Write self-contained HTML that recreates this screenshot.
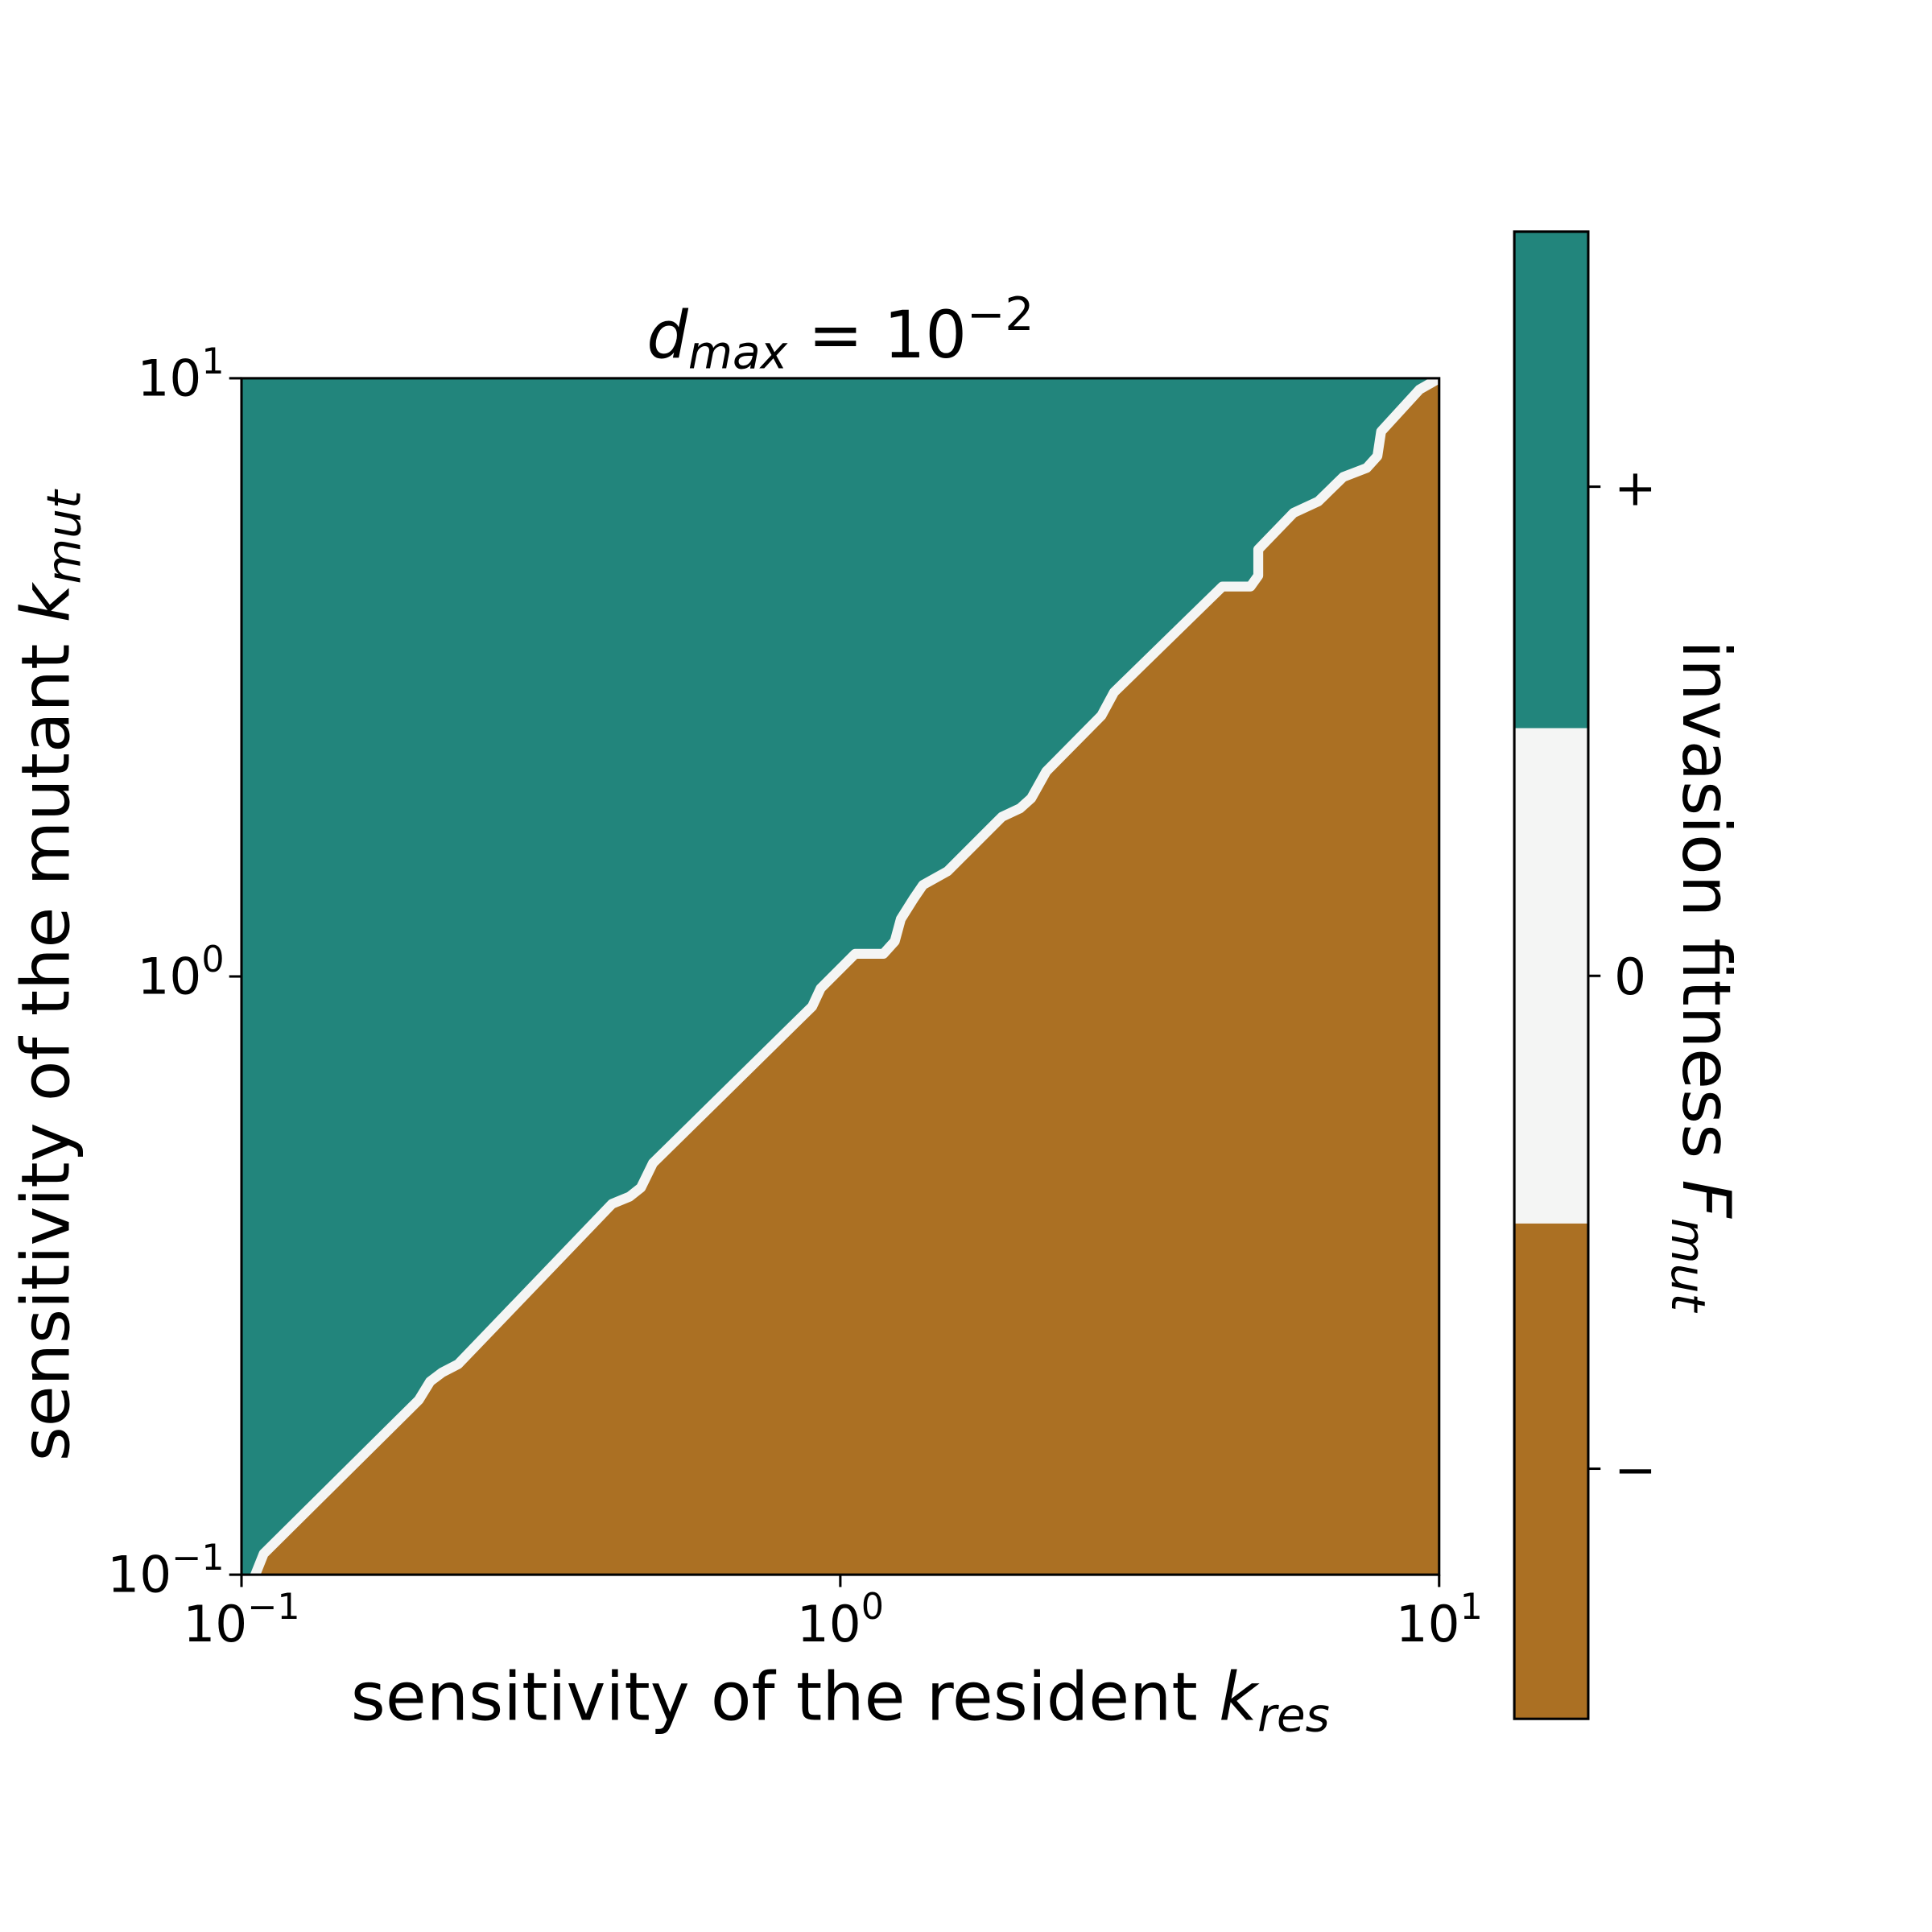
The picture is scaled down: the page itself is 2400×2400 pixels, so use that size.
<!DOCTYPE html>
<html><head><meta charset="utf-8"><style>html,body{margin:0;padding:0;background:#fff}svg{display:block}</style></head>
<body>
<svg id="chart" xmlns="http://www.w3.org/2000/svg" width="2400" height="2400" viewBox="0 0 1568 1568" font-family="'DejaVu Sans','Liberation Sans',sans-serif">
<defs><clipPath id="pc"><rect x="196" y="307" width="972" height="971"/></clipPath></defs>
<g id="plot"></g>
<text x="682" y="290" font-size="53" text-anchor="middle"><tspan font-style="italic">d</tspan><tspan font-style="italic" font-size="37" dy="9">max</tspan><tspan dy="-9"> = 10</tspan><tspan font-size="37" dy="-22">−2</tspan></text>
<g id="ticks"></g>
<text x="682" y="1396" font-size="54" text-anchor="middle">sensitivity of the resident <tspan font-style="italic">k</tspan><tspan font-style="italic" font-size="38" dy="9">res</tspan></text>
<text transform="translate(56,792) rotate(-90)" font-size="54" text-anchor="middle">sensitivity of the mutant <tspan font-style="italic">k</tspan><tspan font-style="italic" font-size="38" dy="9">mut</tspan></text>
<g>
<rect x="1229" y="188" width="60" height="403" fill="#22857c"/>
<rect x="1229" y="591" width="60" height="402" fill="#f4f5f4"/>
<rect x="1229" y="993" width="60" height="402" fill="#ab7023"/>
<rect x="1229" y="188" width="60" height="1207" fill="none" stroke="#000" stroke-width="2"/>
<line x1="1289" y1="395" x2="1299" y2="395" stroke="#000" stroke-width="2"/>
<line x1="1289" y1="792" x2="1299" y2="792" stroke="#000" stroke-width="2"/>
<line x1="1289" y1="1192" x2="1299" y2="1192" stroke="#000" stroke-width="2"/>
<text x="1310" y="410" font-size="41">+</text>
<text x="1310" y="807" font-size="41">0</text>
<text x="1310" y="1207" font-size="41">−</text>
<text transform="translate(1366,792) rotate(90)" font-size="54" text-anchor="middle">invasion fitness <tspan font-style="italic">F</tspan><tspan font-style="italic" font-size="38" dy="9">mut</tspan></text>
</g>
</svg>
<script>
const logKres=[-1.0,-0.977,-0.963,-0.704,-0.685,-0.665,-0.638,-0.381,-0.352,-0.333,-0.313,-0.047,-0.033,0.025,0.072,0.091,0.101,0.123,0.138,0.179,0.270,0.300,0.319,0.344,0.436,0.457,0.638,0.685,0.698,0.698,0.757,0.798,0.840,0.879,0.897,0.903,0.967,1.0];
const logKmut=[-1.05,-1.0,-0.965,-0.708,-0.677,-0.662,-0.648,-0.380,-0.368,-0.353,-0.312,-0.050,-0.020,0.038,0.038,0.059,0.096,0.131,0.153,0.176,0.267,0.281,0.298,0.343,0.436,0.475,0.652,0.652,0.670,0.714,0.775,0.794,0.835,0.850,0.870,0.911,0.981,1.0];
const tickExp=[-1,0,1];
const NS='http://www.w3.org/2000/svg';
const X0=196,X1=1168,Y0=1278,Y1=307;
const xs=v=>X0+(v+1)/2*(X1-X0);
const ys=v=>Y0-(v+1)/2*(Y0-Y1);
function mk(t,a,p){const e=document.createElementNS(NS,t);for(const k in a)e.setAttribute(k,a[k]);p.appendChild(e);return e;}
const plot=document.getElementById('plot');
const g=mk('g',{'clip-path':'url(#pc)'},plot);
const bg=mk('rect',{x:X0,y:Y1,width:X1-X0,height:Y0-Y1,fill:'#22857c'},g);


const pts=logKres.map((v,i)=>xs(v).toFixed(1)+','+ys(logKmut[i]).toFixed(1));
const neg=mk('polygon',{points:pts.join(' ')+' '+(X1+10)+','+(Y1-10)+' '+(X1+10)+','+(Y0+10)+' '+(X0)+','+(Y0+10),fill:'#ab7023'},g);


const bd=mk('polyline',{points:pts.join(' '),fill:'none',stroke:'#f4f5f4','stroke-width':8,'stroke-linejoin':'round'},g);


const fr=mk('rect',{x:X0,y:Y1,width:X1-X0,height:Y0-Y1,fill:'none',stroke:'#000','stroke-width':2},plot);


const tk=document.getElementById('ticks');
tickExp.forEach(e=>{
  const x=xs(e),y=ys(e);
  mk('line',{x1:x,y1:Y0,x2:x,y2:Y0+10,stroke:'#000','stroke-width':2},tk);
  mk('line',{x1:X0,y1:y,x2:X0-10,y2:y,stroke:'#000','stroke-width':2},tk);
  const xt=mk('text',{x:x,y:Y0+54,'font-size':41,'text-anchor':'middle'},tk);
  
  
  xt.innerHTML='10<tspan font-size="29" dy="-18">'+(e<0?'−'+(-e):e)+'</tspan>';
  const yt=mk('text',{x:X0-14,y:y+14,'font-size':41,'text-anchor':'end'},tk);
  
  
  yt.innerHTML='10<tspan font-size="29" dy="-18">'+(e<0?'−'+(-e):e)+'</tspan>';
});
</script>
</body></html>
